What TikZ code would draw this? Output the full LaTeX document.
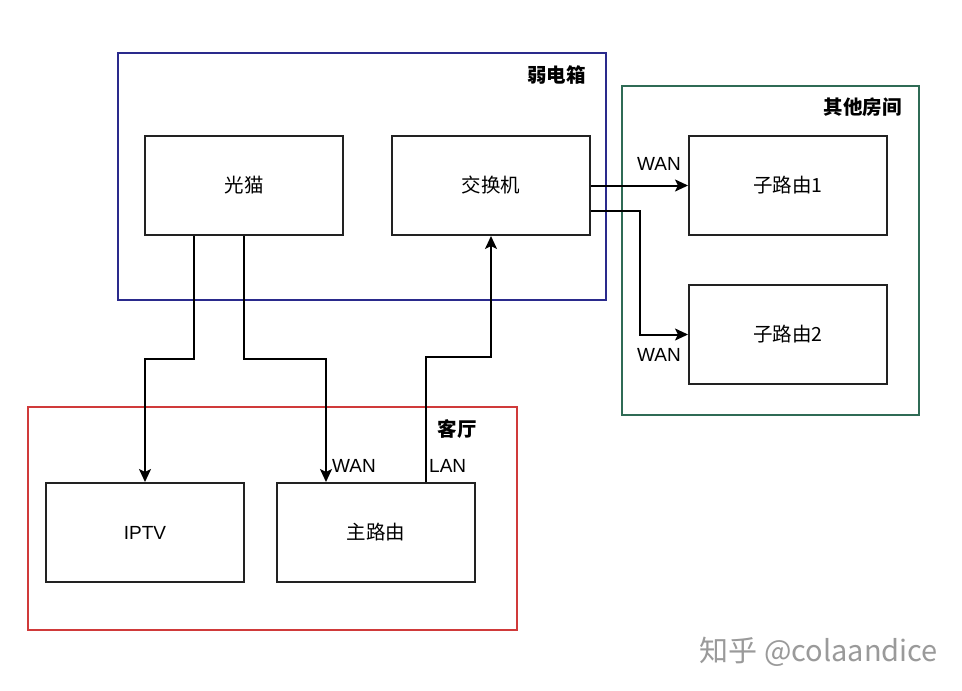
\documentclass[tikz,border=0pt]{standalone}
\usepackage{fontspec}
\setmainfont{Liberation Sans}
\newfontfamily\cjk{Noto Sans CJK SC}
\usetikzlibrary{arrows.meta}
\definecolor{boxline}{HTML}{222222}
\definecolor{blueline}{HTML}{2A2A8C}
\definecolor{greenline}{HTML}{2F6B55}
\definecolor{redline}{HTML}{D03A3A}
\definecolor{wm}{HTML}{9A9A9A}
\tikzset{
  devbox/.style={draw=boxline, line width=2pt, minimum width=198pt, minimum height=99pt, inner sep=0pt, font=\cjk\fontsize{19.5}{22}\selectfont, anchor=north west},
  roomlabel/.style={font=\cjk\bfseries\fontsize{19.5}{22}\selectfont, anchor=east, inner sep=0pt},
  portlabel/.style={font=\fontsize{19}{22}\selectfont, inner sep=0pt},
  conn/.style={draw=black, line width=2pt, -{Stealth[length=13pt,width=12pt,inset=3pt]}},
  wire/.style={draw=black, line width=2pt}
}
\begin{document}
\begin{tikzpicture}[x=1pt,y=-1pt]
\useasboundingbox (0,0) rectangle (962,691);
\fill[white] (0,0) rectangle (962,691);
% containers
\draw[blueline, line width=1.8pt] (118,53) rectangle (606,300);
\node[roomlabel] (lbl1) at (586,75) {弱电箱};
\draw[greenline, line width=1.8pt] (622,86) rectangle (919,415);
\node[roomlabel] (lbl2) at (902,107) {其他房间};
\draw[redline, line width=1.8pt] (28,407) rectangle (517,630);
\node[roomlabel] (lbl3) at (477,429) {客厅};
% devices
\node[devbox] (modem) at (144,135) {光猫};
\node[devbox] (switch) at (391,135) {交换机};
\node[devbox] (sub1) at (688,135) {子路由1};
\node[devbox] (sub2) at (688,284) {子路由2};
\node[devbox] (iptv) at (45,482) {\fontsize{19}{22}\selectfont\rmfamily IPTV};
\node[devbox] (main) at (276,482) {主路由};
% connectors
\draw[conn] ([xshift=-50pt]modem.south) -- ++(0,123) -| (iptv.north);
\draw[conn] (modem.south) -- ++(0,123) -| ([xshift=-50pt]main.north);
\draw[conn] ([xshift=50pt]main.north) -- ++(0,-125) -| (switch.south);
\draw[conn] (switch.east) -- (sub1.west);
\draw[conn] ([yshift=-25pt]switch.east) -- ++(49,0) |- (sub2.west);
% port labels
\node[portlabel, anchor=west] (w1) at (332,466) {WAN};
\node[portlabel, anchor=west] (l1) at (429,466) {LAN};
\node[portlabel] (w2) at (659,164) {WAN};
\node[portlabel] (w3) at (659,355) {WAN};
% watermark
\node[font=\cjk\fontsize{29}{32}\selectfont, text=wm, anchor=east, inner sep=0pt] (wmk) at (938,652) {知乎 @colaandice};
\end{tikzpicture}
\end{document}
